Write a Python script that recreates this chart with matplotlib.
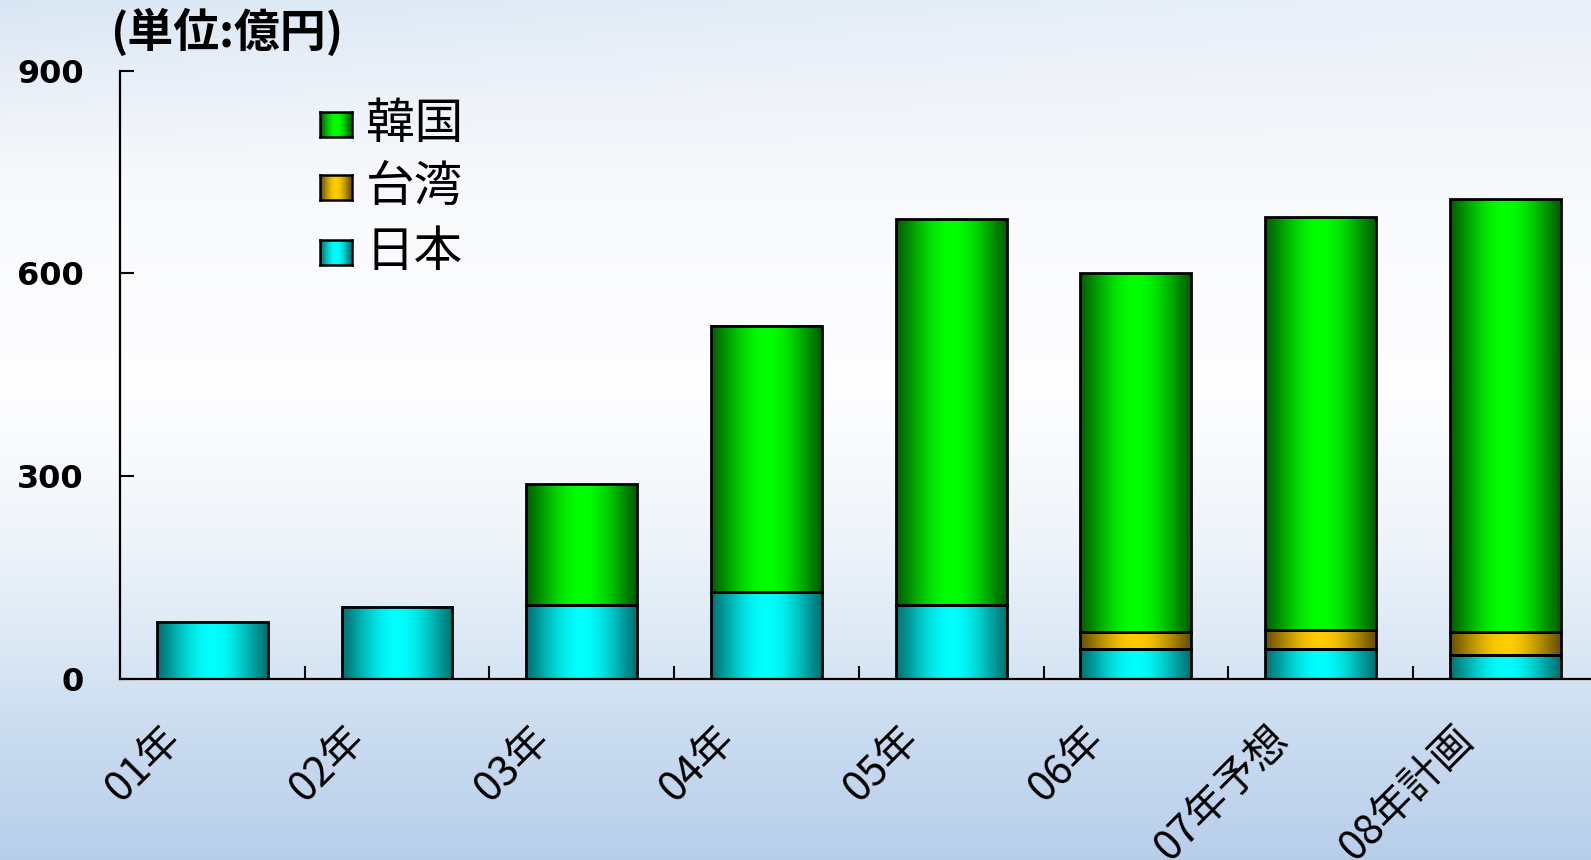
import matplotlib
matplotlib.use("Agg")
import matplotlib.pyplot as plt
import numpy as np
from matplotlib.patches import Rectangle
from matplotlib.transforms import ScaledTranslation

plt.rcParams['font.family'] = ['Noto Sans CJK JP', 'DejaVu Sans']

# ---- data (億円) ----
years = ["01年", "02年", "03年", "04年", "05年", "06年", "07年予想", "08年計画"]
japan = [84, 107, 110, 129, 110, 45, 45, 35]
taiwan = [0, 0, 0, 0, 0, 25, 28, 35]
korea = [0, 0, 178, 394, 571, 530, 611, 640]

series = [
    ("日本", japan, (0.0, 0.45, 0.45), (0.0, 1.0, 1.0)),
    ("台湾", taiwan, (0.42, 0.32, 0.0), (1.0, 0.80, 0.0)),
    ("韓国", korea, (0.0, 0.38, 0.0), (0.0, 1.0, 0.0)),
]

W, H, DPI = 1591, 860, 100


def cyl_gradient(dark, bright, n=96):
    # horizontal shading that makes a flat bar look like a cylinder
    u = np.linspace(0, 1, n)
    p = np.sin(np.pi * u) ** 1.2
    dark = np.array(dark)
    bright = np.array(bright)
    row = dark[None, :] + (bright - dark)[None, :] * p[:, None]
    return row[None, :, :]


def fig_rect(x0, y0, w, h):
    # pixel box (top-left origin) -> figure fraction rect
    return [x0 / W, 1 - (y0 + h) / H, w / W, h / H]


fig = plt.figure(figsize=(W / DPI, H / DPI), dpi=DPI)

# sky-like backdrop: pale at the top, white in the middle, blue at the bottom
stops = [0.0, 0.12, 0.25, 0.45, 0.62, 0.75, 0.86, 1.0]
cols = np.array([
    [0.91, 0.94, 0.97],
    [0.95, 0.96, 0.98],
    [0.975, 0.98, 0.99],
    [0.995, 0.995, 1.0],
    [0.94, 0.96, 0.98],
    [0.86, 0.91, 0.96],
    [0.79, 0.86, 0.94],
    [0.72, 0.81, 0.92],
])
yy = np.linspace(0, 1, 400)
grad = np.stack([np.interp(yy, stops, cols[:, k]) for k in range(3)], axis=1)
xx = np.linspace(0, 1, 200)
# bluer tint towards the upper-left corner
tint = (np.clip(1 - yy / 0.2, 0, 1)[:, None] * (1 - xx)[None, :] ** 1.5) * 0.06
bg_img = grad[:, None, :] - tint[:, :, None] * np.array([1.0, 0.6, 0.2])
bg_img = np.clip(bg_img, 0, 1)
bg = fig.add_axes([0, 0, 1, 1], zorder=0)
bg.imshow(bg_img, aspect="auto", extent=[0, 1, 0, 1], origin="upper")
bg.axis("off")

# main axes: x from -0.5 (left spine) running slightly past the right edge
ax = fig.add_axes(fig_rect(120, 70.7, 8 * 184.7, 608.3), zorder=1)
ax.patch.set_alpha(0)

x = np.arange(len(years))
bar_w = 0.6
bottoms = np.zeros(len(years))
for name, vals, dark, bright in series:
    img = cyl_gradient(dark, bright)
    for i, v in enumerate(vals):
        if v <= 0:
            continue
        b = bottoms[i]
        ax.imshow(img, extent=[x[i] - bar_w / 2, x[i] + bar_w / 2, b, b + v],
                  aspect="auto", zorder=2, interpolation="bilinear")
        ax.add_patch(Rectangle((x[i] - bar_w / 2, b), bar_w, v, fill=False,
                               edgecolor="black", linewidth=2.0, zorder=3))
    bottoms += np.array(vals)

ax.set_xlim(-0.5, len(years) - 0.5)
ax.set_ylim(0, 900)

for side in ("top", "right"):
    ax.spines[side].set_visible(False)
for side in ("left", "bottom"):
    ax.spines[side].set_linewidth(1.6)
    ax.spines[side].set_color("black")

ax.set_yticks([0, 300, 600, 900])
ax.set_yticklabels(["0", "300", "600", "900"], fontfamily="DejaVu Sans",
                   fontweight="bold", fontsize=23)
ax.tick_params(axis="y", direction="in", length=10, width=1.5, pad=26)

ax.set_xticks(x + 0.5, minor=True)
ax.set_xticks([])
ax.tick_params(axis="x", which="minor", direction="in", length=9.5, width=1.5)

# rotated category labels below the axis
for i, lab in enumerate(years):
    off = ScaledTranslation(-38 / DPI, -54 / DPI, fig.dpi_scale_trans)
    ax.text(x[i], 0, lab, transform=ax.transData + off, rotation=45,
            rotation_mode="anchor", ha="right", va="center", fontsize=30,
            clip_on=False)

# unit label
fig.text(110 / W, 1 - 33 / H, "(単位:億円)", fontsize=33, fontweight="bold",
         ha="left", va="center")

# legend
legend_rows = [("韓国", 124.5, series[2]), ("台湾", 187.5, series[1]),
               ("日本", 252.5, series[0])]
for label, yc, (_, _, dark, bright) in legend_rows:
    sq = fig.add_axes(fig_rect(320, yc - 12.5, 32, 25), zorder=2)
    sq.imshow(cyl_gradient(dark, bright, 32), aspect="auto", extent=[0, 1, 0, 1])
    sq.set_xticks([])
    sq.set_yticks([])
    for s in sq.spines.values():
        s.set_linewidth(1.8)
    fig.text(366 / W, 1 - yc / H, label, fontsize=35, ha="left", va="center")

fig.savefig("out.png", dpi=DPI)
